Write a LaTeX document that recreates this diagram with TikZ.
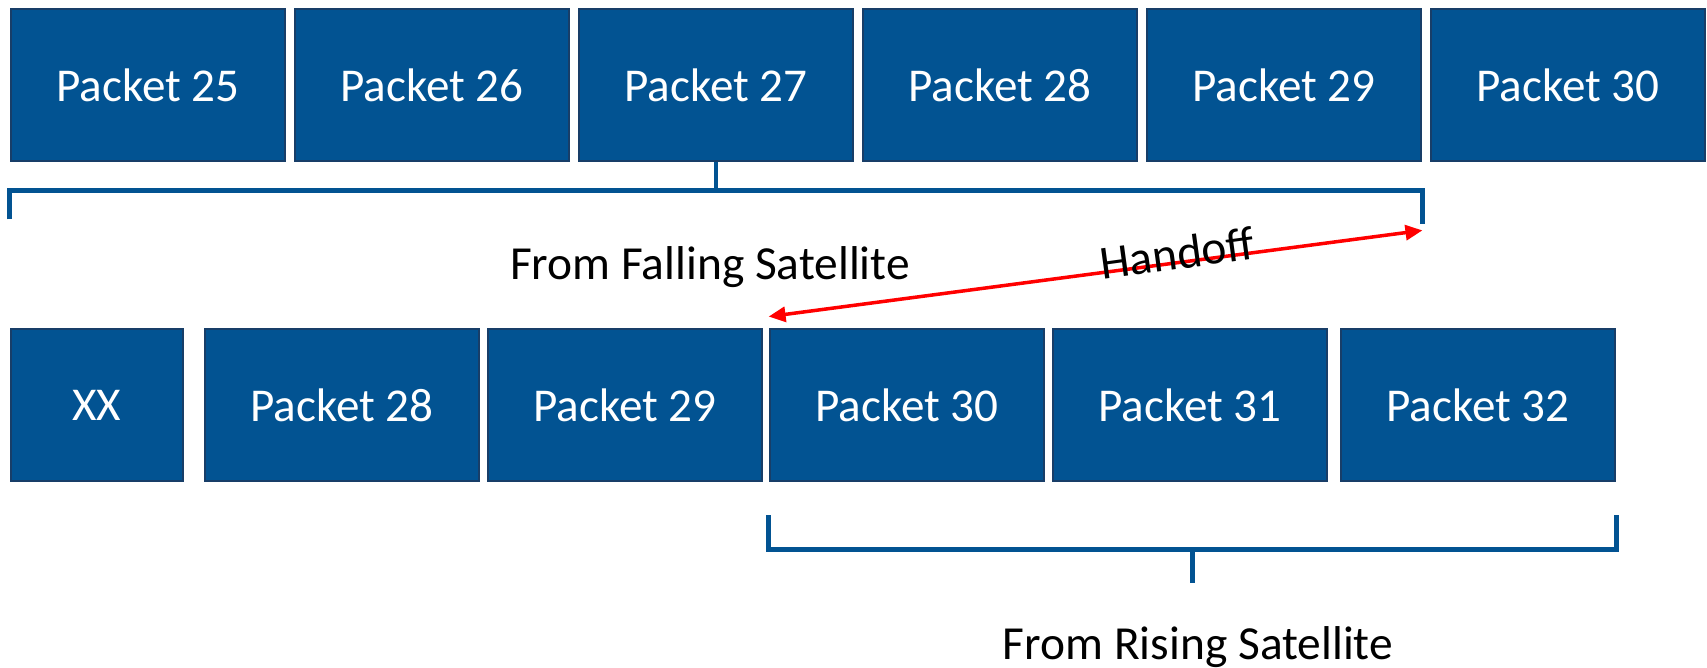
\documentclass[tikz,border=0pt]{standalone}
\usepackage{fontspec}
\setmainfont{Carlito}
\usetikzlibrary{arrows.meta,calc}
\definecolor{pktblue}{RGB}{2,83,146}
\definecolor{pktedge}{RGB}{24,62,104}
\tikzset{
	packet/.style={draw=pktedge, line width=0.8pt, fill=pktblue, text=white, minimum height=1.52cm, minimum width=2.74cm, inner sep=0pt, font=\fontsize{13.4}{16}\selectfont},
	brace/.style={draw=pktblue, line width=1.3pt},
	txt/.style={inner sep=0pt, font=\fontsize{13.5}{16}\selectfont}
}
\begin{document}
\begin{tikzpicture}
			\useasboundingbox (0,0) rectangle (17.07,-6.68);

			% Packets from the falling satellite
			\node[packet] (p25) at (1.48,-0.85) {Packet 25};
			\node[packet] (p26) at (4.32,-0.85) {Packet 26};
			\node[packet] (p27) at (7.16,-0.85) {Packet 27};
			\node[packet] (p28) at (10.00,-0.85) {Packet 28};
			\node[packet] (p29) at (12.84,-0.85) {Packet 29};
			\node[packet] (p30) at (15.68,-0.85) {Packet 30};

			% Packets after the handoff
			\node[packet, minimum width=1.72cm] (xx) at (0.97,-4.05) {XX};
			\node[packet] (q28) at (3.42,-4.05) {Packet 28};
			\node[packet] (q29) at (6.25,-4.05) {Packet 29};
			\node[packet] (q30) at (9.07,-4.05) {Packet 30};
			\node[packet] (q31) at (11.90,-4.05) {Packet 31};
			\node[packet] (q32) at (14.78,-4.05) {Packet 32};

			% Bracket: falling satellite
			\draw[brace] ($(p25.south west)+(0,-0.57)$) -- ($(p25.south west)+(0,-0.28)$) -- ($(p29.south east)+(0,-0.28)$) -- ($(p29.south east)+(0,-0.62)$);
			\draw[brace] (p27.south) -- ($(p27.south)+(0,-0.28)$);
			\node[txt] (falling) at (7.10,-2.67) {From Falling Satellite};

			% Bracket: rising satellite
			\draw[brace] ($(q30.south west)+(0,-0.33)$) -- ($(q30.south west)+(0,-0.67)$) -- ($(q32.south east)+(0,-0.67)$) -- ($(q32.south east)+(0,-0.33)$);
			\coordinate (risemid) at ($(q30.south west)!0.5!(q32.south east)$);
			\draw[brace] ($(risemid)+(0,-0.67)$) -- ($(risemid)+(0,-1.01)$);
			\node[txt] (rising) at (11.98,-6.47) {From Rising Satellite};

			% Handoff
			\coordinate (hotop) at ($(p29.south east)+(0,-0.68)$);
			\coordinate (hobot) at ($(q30.north west)+(0,0.11)$);
			\draw[red, line width=1pt, {Triangle[length=1.7mm,width=1.5mm]}-{Triangle[length=1.7mm,width=1.5mm]}] (hotop) -- (hobot);
			\node[txt, rotate=7.8] (handoff) at (11.77,-2.53) {Handoff};
		\end{tikzpicture}
\end{document}
